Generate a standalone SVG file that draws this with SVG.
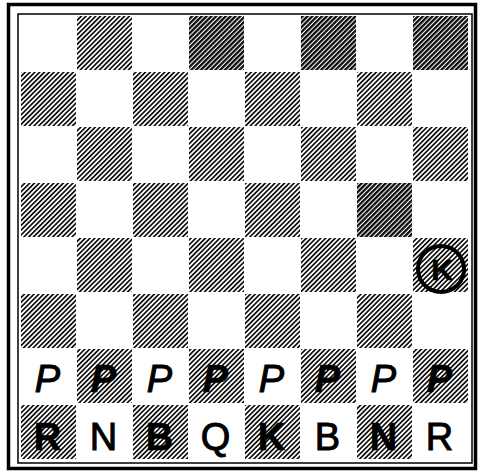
<svg xmlns="http://www.w3.org/2000/svg" width="479" height="474" viewBox="0 0 479 474">
  <defs>
    <pattern id="hatch" width="3.4" height="3.4" patternUnits="userSpaceOnUse" patternTransform="rotate(45)">
      <rect width="3.4" height="3.4" fill="#fff"/>
      <rect x="0" y="0" width="1.7" height="3.4" fill="#111"/>
    </pattern>
    <pattern id="hatchDark" width="3.4" height="3.4" patternUnits="userSpaceOnUse" patternTransform="rotate(45)">
      <rect width="3.4" height="3.4" fill="#fff"/>
      <rect x="0" y="0" width="2.3" height="3.4" fill="#0a0a0a"/>
    </pattern>
  </defs>
  <style>
    .sq { fill: url(#hatch); }
    .sqd { fill: url(#hatchDark); }
    .pc { font-family: "Liberation Sans", "DejaVu Sans", sans-serif; font-size: 38px; fill: #000; stroke: #000; stroke-width: 1; text-anchor: middle; }
    .pw { font-style: italic; }
    .on { font-weight: bold; stroke-width: 0.6; }
  </style>
  <rect width="479" height="474" fill="#fff"/>
  <g id="frame" fill="none" stroke="#000">
    <rect x="8.5" y="4.5" width="467" height="464" stroke-width="3.5"/>
    <rect x="18" y="14" width="454" height="449" stroke-width="1.5"/>
  </g>
  <g id="board">
    <rect class="sq" x="77" y="16" width="55" height="54"/>
    <rect class="sqd" x="189" y="16" width="55" height="54"/>
    <rect class="sqd" x="301" y="16" width="55" height="54"/>
    <rect class="sqd" x="413" y="16" width="55" height="54"/>
    <rect class="sq" x="21" y="72" width="55" height="54"/>
    <rect class="sq" x="133" y="72" width="55" height="54"/>
    <rect class="sq" x="245" y="72" width="55" height="54"/>
    <rect class="sq" x="357" y="72" width="55" height="54"/>
    <rect class="sq" x="77" y="127" width="55" height="54"/>
    <rect class="sq" x="189" y="127" width="55" height="54"/>
    <rect class="sq" x="301" y="127" width="55" height="54"/>
    <rect class="sq" x="413" y="127" width="55" height="54"/>
    <rect class="sq" x="21" y="183" width="55" height="54"/>
    <rect class="sq" x="133" y="183" width="55" height="54"/>
    <rect class="sq" x="245" y="183" width="55" height="54"/>
    <rect class="sqd" x="357" y="183" width="55" height="54"/>
    <rect class="sq" x="77" y="238" width="55" height="54"/>
    <rect class="sq" x="189" y="238" width="55" height="54"/>
    <rect class="sq" x="301" y="238" width="55" height="54"/>
    <rect class="sq" x="413" y="238" width="55" height="54"/>
    <rect class="sq" x="21" y="294" width="55" height="54"/>
    <rect class="sq" x="133" y="294" width="55" height="54"/>
    <rect class="sq" x="245" y="294" width="55" height="54"/>
    <rect class="sq" x="357" y="294" width="55" height="54"/>
    <rect class="sq" x="77" y="349" width="55" height="54"/>
    <rect class="sq" x="189" y="349" width="55" height="54"/>
    <rect class="sq" x="301" y="349" width="55" height="54"/>
    <rect class="sq" x="413" y="349" width="55" height="54"/>
    <rect class="sq" x="21" y="405" width="55" height="54"/>
    <rect class="sq" x="133" y="405" width="55" height="54"/>
    <rect class="sq" x="245" y="405" width="55" height="54"/>
    <rect class="sq" x="357" y="405" width="55" height="54"/>
  </g>
  <g id="pawns">
    <text class="pc pw" x="47.5" y="392">P</text>
    <text class="pc pw on" x="103.5" y="392">P</text>
    <text class="pc pw" x="159.5" y="392">P</text>
    <text class="pc pw on" x="215.5" y="392">P</text>
    <text class="pc pw" x="271.5" y="392">P</text>
    <text class="pc pw on" x="327.5" y="392">P</text>
    <text class="pc pw" x="383.5" y="392">P</text>
    <text class="pc pw on" x="439.5" y="392">P</text>
  </g>
  <g id="pieces">
    <text class="pc on" x="47.5" y="450">R</text>
    <text class="pc" x="103.5" y="450">N</text>
    <text class="pc on" x="159.5" y="450">B</text>
    <text class="pc" x="215.5" y="450">Q</text>
    <text class="pc on" x="271.5" y="450">K</text>
    <text class="pc" x="327.5" y="450">B</text>
    <text class="pc on" x="383.5" y="450">N</text>
    <text class="pc" x="439.5" y="450">R</text>
  </g>
  <g id="black-king">
    <circle cx="441" cy="269" r="23" fill="none" stroke="#000" stroke-width="4"/>
    <text class="pc on" x="442" y="280" style="font-size:30px">K</text>
  </g>
</svg>
